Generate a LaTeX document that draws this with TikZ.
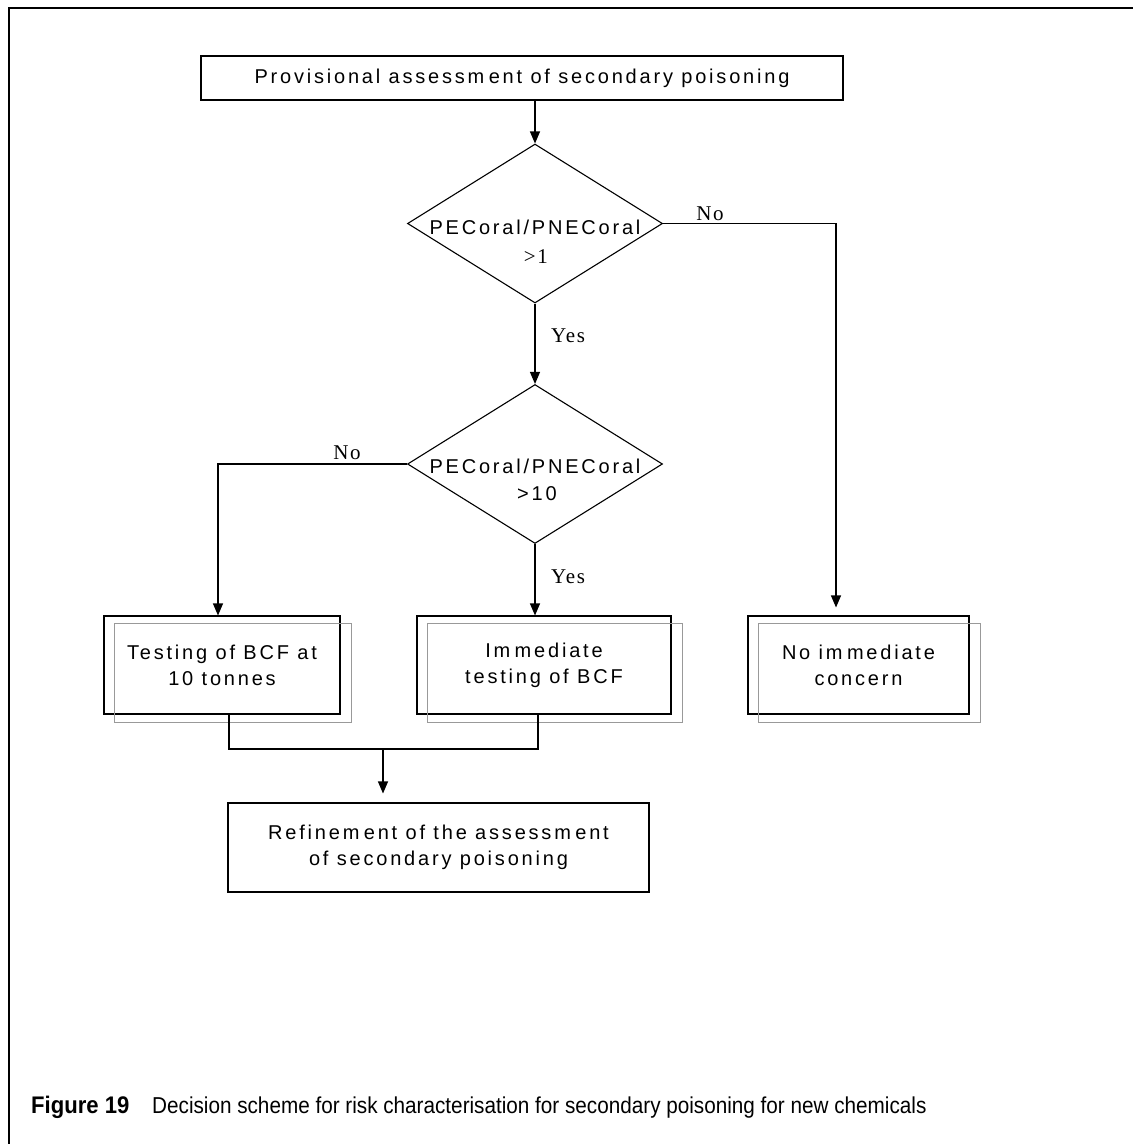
\documentclass[tikz,border=0pt]{standalone}
\usepackage{fontspec}
\setmainfont{Liberation Sans}
\newfontfamily\boxfont[LetterSpace=14]{Liberation Sans}
\newfontfamily\lblfont[LetterSpace=8]{Liberation Serif}
\newfontfamily\capbfont[FakeStretch=0.92]{Liberation Sans}
\newfontfamily\capfont[FakeStretch=0.9]{Liberation Sans}
\usetikzlibrary{shapes.geometric,arrows.meta,calc}
% small gap that the original typesetting leaves after some m's
\newcommand\mgap{\kern0.22em}

\begin{document}
\begin{tikzpicture}[x=1pt,y=-1pt,
  line/.style={line width=1.1pt,draw=black},
  arr/.style={line, -{Triangle[length=12pt,width=10pt]}},
  box/.style={draw, line width=1.1pt, inner sep=0pt, align=center,
              font=\boxfont\fontsize{20}{26}\selectfont},
  shade/.style={draw=black!40, line width=1.1pt},
  dia/.style={diamond, draw, line width=1.1pt, inner sep=0pt,
              minimum width=255pt, minimum height=159pt},
  dtext/.style={inner sep=0pt, font=\boxfont\fontsize{20}{26}\selectfont},
  lbl/.style={inner sep=0pt, font=\lblfont\fontsize{21}{26}\selectfont},
  capb/.style={inner sep=0pt, anchor=base west, font=\capbfont\bfseries\fontsize{24}{28}\selectfont},
  capn/.style={inner sep=0pt, anchor=base west, font=\capfont\fontsize{23}{28}\selectfont}]
\useasboundingbox (0,0) rectangle (1133,1144);

% outer frame
\draw[line width=2pt] (9,1144) -- (9,8) -- (1133,8);

% start box
\node[box, minimum width=642pt, minimum height=44pt] (top) at (522,78)
  {Provisional assessm\mgap ent of secondary poisoning};

% decisions
\node[dia] (d1) at (535,223.5) {};
\node[dtext] (d1a) at ($(d1)+(0,4)$) {PECoral/PNECoral};
\node[lbl] (d1b) at ($(d1)+(1,33)$) {>1};

\node[dia] (d2) at (535,464) {};
\node[dtext] (d2a) at ($(d2)+(0,2)$) {PECoral/PNECoral};
\node[dtext] (d2b) at ($(d2)+(2,30)$) {>10};

% outcome boxes with offset outline
\node[box, minimum width=236pt, minimum height=98pt] (b1) at (222,665)
  {Testing of BCF at\\10 tonnes};
\node[box, minimum width=254pt, minimum height=98pt] (b2) at (544,665)
  {Im\mgap mediate\\testing of BCF};
\node[box, minimum width=221pt, minimum height=98pt] (b3) at (858.5,665)
  {No im\mgap mediate\\concern};
\foreach \b in {b1,b2,b3}
  \draw[shade] ($(\b.north west)+(11,8)$) rectangle ($(\b.south east)+(11,8)$);

% final box
\node[box, minimum width=421pt, minimum height=89pt] (ref) at (438.5,847.5)
  {Refinem\mgap ent of the assessm\mgap ent\\of secondary poisoning};

% connectors
\draw[arr] (top.south -| d1.north) -- (d1.north);
\draw[arr] (d1.south) -- (d2.north);
\node[lbl] (yes1) at (568,336) {Yes};

\coordinate (c1) at (836,223.5);
\draw[arr, shorten >=8pt] (d1.east) -- (c1) -- (c1 |- b3.north);
\node[lbl] (no1) at (710,214) {No};

\coordinate (c2) at (218,464);
\draw[arr] (d2.west) -- (c2) -- (c2 |- b1.north);
\node[lbl] (no2) at (347,453) {No};

\draw[arr] (d2.south) -- (d2.south |- b2.north);
\node[lbl] (yes2) at (568,577) {Yes};

\coordinate (j1) at (229,749);
\coordinate (j2) at (538,749);
\coordinate (j3) at (383,749);
\draw[line] (b1.south -| j1) -- (j1) -- (j2) -- (b2.south -| j2);
\draw[arr, shorten >=9pt] (j3) -- (j3 |- ref.north);

% caption
\node[capb] (fig) at (31,1113) {Figure 19};
\node[capn] (cap) at (152,1113) {Decision scheme for risk characterisation for secondary poisoning for new chemicals};
\end{tikzpicture}
\end{document}
